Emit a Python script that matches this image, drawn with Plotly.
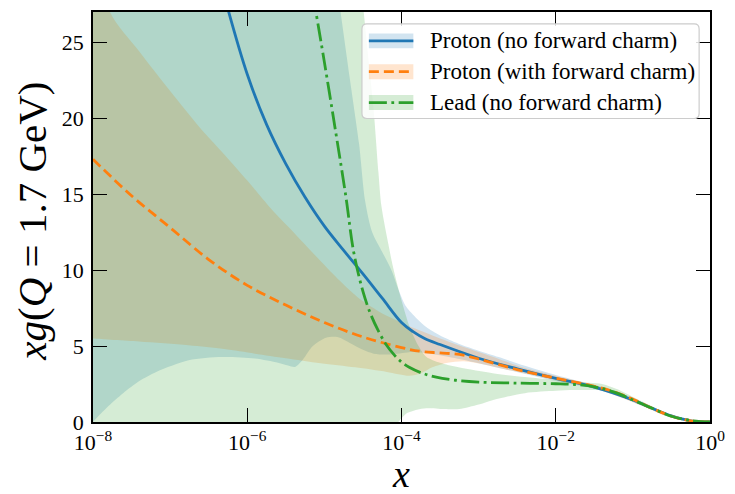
import numpy as np
import plotly.graph_objects as go

# ---------------- data (x given as log10 exponents) ----------------
# central curves
blue_lx = [-6.3, -6.0, -5.75, -5.5, -5.25, -5.0, -4.75, -4.5, -4.25, -4.0, -3.85, -3.7,
           -3.5, -3.0, -2.5, -2.0, -1.5, -1.0, -0.75, -0.5, -0.25, 0.0]
blue_y = [28.1, 22.9, 19.6, 17.0, 14.8, 12.9, 11.3, 9.75, 8.15, 6.55, 5.95, 5.5,
          5.1, 4.2, 3.5, 2.87, 2.3, 1.45, 0.9, 0.4, 0.08, 0.0]

orange_lx = [-8.0, -7.5, -7.0, -6.5, -6.0, -5.5, -5.0, -4.5, -4.0, -3.75, -3.5, -3.25,
             -3.0, -2.5, -2.0, -1.5, -1.25, -1.0, -0.75, -0.5, -0.25, 0.0]
orange_y = [17.3, 14.9, 12.8, 10.7, 9.0, 7.7, 6.55, 5.6, 4.9, 4.65, 4.55, 4.45,
            4.15, 3.45, 2.88, 2.35, 2.0, 1.5, 0.9, 0.38, 0.08, 0.0]

green_lx = [-5.15, -5.0, -4.85, -4.72, -4.62, -4.5, -4.4, -4.3, -4.2, -4.1, -4.0, -3.9,
            -3.75, -3.55, -3.3, -3.0, -2.5, -2.0, -1.75, -1.5, -1.25, -1.0, -0.75,
            -0.5, -0.25, 0.0]
green_y = [28.2, 23.7, 19.0, 14.8, 11.2, 8.6, 7.1, 6.0, 5.1, 4.45, 3.95, 3.6,
           3.25, 2.95, 2.75, 2.63, 2.56, 2.52, 2.47, 2.32, 1.98, 1.45, 0.9,
           0.38, 0.1, 0.0]

# uncertainty bands: proton (no forward charm)
blue_up_lx = [-8.1, -7.0, -6.0, -5.3, -4.95, -4.79, -4.67, -4.55, -4.47, -4.38, -4.25, -4.13,
              -4.03, -3.94, -3.8, -3.68, -3.5, -3.26, -3.0, -2.74, -2.4, -2.0, -1.7, -1.4,
              -1.15, -0.9, -0.7, -0.47, -0.25, 0.05]
blue_up_y = [90, 75, 60, 45, 33, 27, 22.6, 18.3, 14.5, 12.5, 11.2, 10.0,
             8.6, 7.6, 6.8, 6.25, 5.7, 5.16, 4.7, 4.28, 3.7, 3.1, 2.7, 2.3,
             1.9, 1.35, 0.9, 0.42, 0.12, 0.0]
blue_lo_lx = [-8.1, -8.0, -7.8, -7.61, -7.4, -7.18, -6.76, -6.33, -5.9, -5.6, -5.47, -5.38,
              -5.28, -5.15, -4.98, -4.83, -4.65, -4.5, -4.36, -4.15, -3.9, -3.7, -3.5, -3.2,
              -2.9, -2.6, -2.3, -2.0, -1.7, -1.4, -1.15, -0.9, -0.7, -0.47, -0.25, 0.05]
blue_lo_y = [-0.6, 0.0, 1.05, 1.9, 2.7, 3.3, 4.07, 4.28, 4.18, 3.9, 3.72, 3.63,
             4.1, 5.0, 5.55, 5.6, 5.15, 4.75, 4.5, 4.45, 4.6, 4.55, 4.4, 4.1,
             3.75, 3.4, 3.05, 2.7, 2.4, 2.05, 1.65, 1.1, 0.7, 0.28, 0.05, 0.0]

# uncertainty bands: proton (with forward charm)
orange_up_lx = [-8.1, -8.0, -7.78, -7.4, -7.0, -6.6, -6.33, -6.0, -5.7, -5.4, -5.05, -4.8,
                -4.54, -4.3, -4.11, -3.85, -3.6, -3.26, -2.82, -2.4, -1.97, -1.5, -1.2,
                -0.9, -0.6, -0.3, 0.05]
orange_up_y = [33, 32, 27, 24.4, 21.8, 19.3, 17.8, 15.9, 14.1, 12.5, 10.6, 9.3,
               8.1, 7.3, 6.8, 6.2, 5.7, 5.05, 4.3, 3.55, 3.0, 2.45, 1.95,
               1.3, 0.6, 0.12, 0.0]
orange_lo_lx = [-8.1, -8.0, -7.4, -6.76, -6.3, -5.9, -5.5, -5.05, -4.6, -4.19, -3.9, -3.75,
                -3.6, -3.4, -3.2, -3.0, -2.6, -2.3, -2.0, -1.7, -1.5, -1.2, -0.9, -0.6,
                -0.3, 0.05]
orange_lo_y = [5.55, 5.5, 5.3, 5.05, 4.8, 4.5, 4.2, 3.87, 3.6, 3.3, 3.05, 3.2,
               3.6, 3.9, 4.0, 3.85, 3.4, 3.1, 2.75, 2.45, 2.2, 1.7, 1.1, 0.45,
               0.05, 0.0]

# uncertainty bands: lead (no forward charm)
green_up_lx = [-8.1, -6.0, -5.0, -4.6, -4.49, -4.42, -4.36, -4.3, -4.26, -4.17, -4.11, -4.0,
               -3.89, -3.78, -3.68, -3.5, -3.26, -2.8, -2.4, -1.76, -1.4, -1.2, -1.0, -0.8,
               -0.6, -0.4, -0.2, 0.05]
green_up_y = [90, 70, 45, 32, 27, 23.5, 20.5, 16.5, 14.2, 11.7, 10.2, 8.0,
              6.2, 5.0, 4.3, 3.9, 3.6, 3.2, 2.96, 2.65, 2.5, 2.15, 1.65, 1.15,
              0.65, 0.25, 0.06, 0.0]
green_lo_lx = [-8.1, -6.0, -4.3, -4.08, -4.0, -3.94, -3.8, -3.68, -3.45, -3.25, -3.0, -2.82,
               -2.4, -2.0, -1.76, -1.33, -1.1, -0.9, -0.7, -0.5, -0.3, 0.05]
green_lo_y = [-3, -2, -0.8, -0.2, 0.25, 0.55, 0.8, 0.9, 0.85, 0.85, 1.15, 1.44,
              1.9, 2.05, 2.1, 2.05, 1.7, 1.2, 0.7, 0.3, 0.08, 0.0]

x_tick_exp = [-8, -6, -4, -2, 0]
y_ticks = [0, 5, 10, 15, 20, 25]

labels = ["Proton (no forward charm)", "Proton (with forward charm)", "Lead (no forward charm)"]
colors = ["#1f77b4", "#ff7f0e", "#2ca02c"]
fills = ["rgba(31,119,180,0.2)", "rgba(255,127,14,0.2)", "rgba(44,160,44,0.2)"]
dashes = ["solid", "10px,5px", "18px,4.5px,2.8px,4.5px"]

FONT = "Liberation Serif"
LW = 2.8


def xs(lx):
    return list(10.0 ** np.array(lx, dtype=float))


fig = go.Figure()

bands = [
    (blue_up_lx, blue_up_y, blue_lo_lx, blue_lo_y),
    (orange_up_lx, orange_up_y, orange_lo_lx, orange_lo_y),
    (green_up_lx, green_up_y, green_lo_lx, green_lo_y),
]
for (ulx, uy, llx, ly), fc in zip(bands, fills):
    px = xs(ulx) + xs(llx)[::-1]
    py = list(uy) + list(ly)[::-1]
    fig.add_trace(go.Scatter(x=px, y=py, mode="lines", fill="toself", fillcolor=fc,
                             line=dict(width=0, shape="spline", smoothing=0.8),
                             hoverinfo="skip", showlegend=False))

curves = [(blue_lx, blue_y), (orange_lx, orange_y), (green_lx, green_y)]
for (lx, yv), c, d in zip(curves, colors, dashes):
    fig.add_trace(go.Scatter(x=xs(lx), y=yv, mode="lines",
                             line=dict(color=c, width=LW, dash=d, shape="spline", smoothing=1.0),
                             hoverinfo="skip", showlegend=False))

# ---------------- layout ----------------
L, R, T, B = 93, 18, 10, 72
W, H = 735, 494
pw, ph = W - L - R, H - T - B


def PX(px):
    return (px - L) / pw


def PY(py):
    return (H - B - py) / ph


axis_common = dict(showline=True, linecolor="black", linewidth=1.8, mirror="ticks",
                   ticks="inside", ticklen=14, tickwidth=1.4, tickcolor="black",
                   showgrid=False, zeroline=False,
                   tickfont=dict(family=FONT, size=22, color="black"))

fig.update_layout(
    width=W, height=H,
    margin=dict(l=L, r=R, t=T, b=B),
    paper_bgcolor="white", plot_bgcolor="white",
    showlegend=False,
    xaxis=dict(type="log", range=[-8, 0],
               tickvals=[10.0 ** e for e in x_tick_exp],
               ticktext=["10<sup>\u2212%d</sup>" % (-e) if e < 0 else "10<sup>0</sup>" for e in x_tick_exp],
               ticklabelstandoff=0,
               **axis_common),
    yaxis=dict(range=[0, 27], tickvals=y_ticks, ticktext=[str(v) for v in y_ticks],
               ticklabelstandoff=3,
               **axis_common),
)

# axis titles
fig.add_annotation(xref="paper", yref="paper", x=PX(404), y=PY(497), text="<i>x</i>",
                   showarrow=False, font=dict(family=FONT, size=38, color="black"),
                   xanchor="center", yanchor="bottom")
fig.add_annotation(xref="paper", yref="paper", x=PX(31), y=PY(220),
                   text="<i>xg</i>(<i>Q</i> = 1.7 GeV)", textangle=-90,
                   showarrow=False, font=dict(family=FONT, size=41, color="black"),
                   xanchor="center", yanchor="middle")

# legend (drawn manually to mimic the reference)
bx0, by0, bx1, by1 = 365, 22, 706, 117
r = 5
path = (f"M {PX(bx0 + r)} {PY(by0)} L {PX(bx1 - r)} {PY(by0)} Q {PX(bx1)} {PY(by0)} {PX(bx1)} {PY(by0 + r)} "
        f"L {PX(bx1)} {PY(by1 - r)} Q {PX(bx1)} {PY(by1)} {PX(bx1 - r)} {PY(by1)} "
        f"L {PX(bx0 + r)} {PY(by1)} Q {PX(bx0)} {PY(by1)} {PX(bx0)} {PY(by1 - r)} "
        f"L {PX(bx0)} {PY(by0 + r)} Q {PX(bx0)} {PY(by0)} {PX(bx0 + r)} {PY(by0)} Z")
fig.add_shape(type="path", path=path, xref="paper", yref="paper",
              fillcolor="rgba(255,255,255,0.85)", line=dict(color="rgba(204,204,204,1)", width=1.2),
              layer="above")
rows = [39, 70, 101]
for rowy, lab, c, fc, d in zip(rows, labels, colors, fills, dashes):
    fig.add_shape(type="rect", xref="paper", yref="paper",
                  x0=PX(372), x1=PX(417), y0=PY(rowy - 7.5), y1=PY(rowy + 7.5),
                  fillcolor=fc, line=dict(width=0), layer="above")
    fig.add_shape(type="line", xref="paper", yref="paper",
                  x0=PX(372), x1=PX(417), y0=PY(rowy), y1=PY(rowy),
                  line=dict(color=c, width=LW, dash=d), layer="above")
    fig.add_annotation(xref="paper", yref="paper", x=PX(432), y=PY(rowy), text=lab,
                       showarrow=False, xanchor="left", yanchor="middle",
                       font=dict(family=FONT, size=23, color="black"))

fig.write_html("out.html")
